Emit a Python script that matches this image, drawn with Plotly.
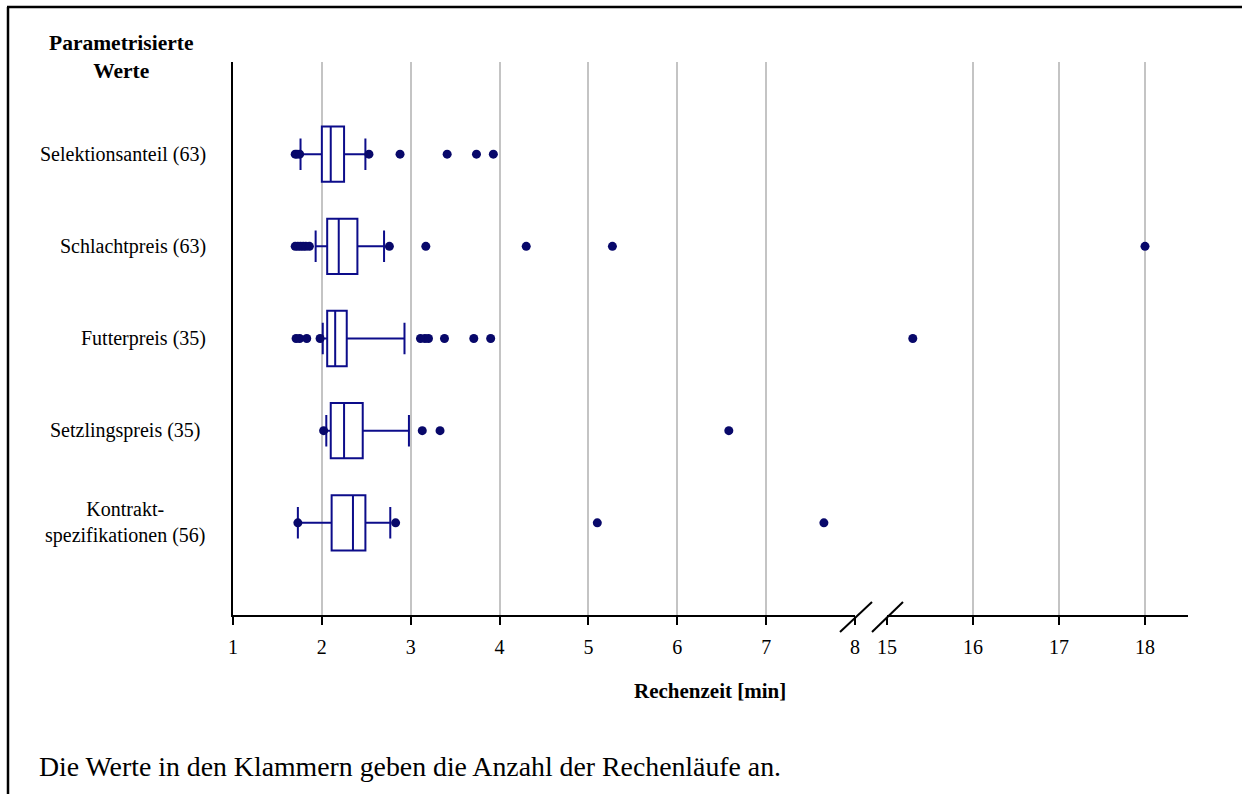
import plotly.graph_objects as go

# ---- data ----
categories = ["Selektionsanteil (63)", "Schlachtpreis (63)", "Futterpreis (35)",
              "Setzlingspreis (35)", "Kontrakt-<br>spezifikationen (56)"]
q1 = [2.00, 2.06, 2.06, 2.10, 2.11]
median = [2.10, 2.19, 2.15, 2.25, 2.35]
q3 = [2.25, 2.40, 2.28, 2.46, 2.49]
lowerfence = [1.76, 1.93, 2.01, 2.05, 1.73]
upperfence = [2.49, 2.70, 2.93, 2.98, 2.77]
outliers = [
    [1.70, 1.72, 1.75, 2.53, 2.88, 3.41, 3.74, 3.93],
    [1.70, 1.73, 1.76, 1.79, 1.82, 1.86, 2.76, 3.17, 4.30, 5.27, 18.0],
    [1.71, 1.75, 1.83, 1.98, 3.11, 3.16, 3.20, 3.38, 3.71, 3.90, 15.3],
    [2.02, 3.13, 3.33, 6.58],
    [1.73, 2.83, 5.10, 7.65],
]
left_ticks = [1, 2, 3, 4, 5, 6, 7, 8]
right_ticks = [15, 16, 17, 18]
x_title = "Rechenzeit [min]"
y_title = "Parametrisierte<br>Werte"
footnote = "Die Werte in den Klammern geben die Anzahl der Rechenläufe an."

BREAK_LO, BREAK_HI = 8, 15

# ---- style ----
FONT = "Liberation Serif"
BOX_COLOR = "#0c0c8a"
DOT_COLOR = "#08086a"
GRID = "#c4c4c4"

W, H = 1245, 794
L, R, T, B = 233, 57, 62, 179
PW, PH = W - L - R, H - T - B


def px(xp):
    return (xp - L) / PW


def py(yp):
    return (H - B - yp) / PH


fig = go.Figure()
n = len(categories)
for i, cat in enumerate(categories):
    pos = n - 1 - i
    fig.add_trace(go.Box(
        orientation="h", y=[pos], q1=[q1[i]], median=[median[i]], q3=[q3[i]],
        lowerfence=[lowerfence[i]], upperfence=[upperfence[i]],
        boxpoints=False, line=dict(color=BOX_COLOR, width=2), fillcolor="white",
        width=0.6, whiskerwidth=0.57, xaxis="x", yaxis="y", showlegend=False,
        hoverinfo="skip"))
    lo = [v for v in outliers[i] if v <= BREAK_LO]
    hi = [v for v in outliers[i] if v >= BREAK_HI]
    if lo:
        fig.add_trace(go.Scatter(x=lo, y=[pos] * len(lo), mode="markers",
                                 marker=dict(color=DOT_COLOR, size=9),
                                 xaxis="x", yaxis="y", showlegend=False))
    if hi:
        fig.add_trace(go.Scatter(x=hi, y=[pos] * len(hi), mode="markers",
                                 marker=dict(color=DOT_COLOR, size=9),
                                 xaxis="x2", yaxis="y", showlegend=False,
                                 cliponaxis=False))

axis_common = dict(showgrid=True, gridcolor=GRID, gridwidth=2, showline=True,
                   linecolor="black", linewidth=2, ticks="outside", ticklen=8,
                   tickwidth=2, tickcolor="black", zeroline=False, ticklabelstandoff=5,
                   tickfont=dict(family=FONT, size=20, color="black"), anchor="y")

split1 = px(855)
split2 = px(887)
fig.update_layout(
    width=W, height=H, margin=dict(l=L, r=R, t=T, b=B),
    paper_bgcolor="white", plot_bgcolor="white",
    xaxis=dict(domain=[0, split1], range=[1, BREAK_LO], tickvals=left_ticks, **axis_common),
    xaxis2=dict(domain=[split2, 1], range=[BREAK_HI, 18.5], tickvals=right_ticks, **axis_common),
    yaxis=dict(range=[-1, n], showline=True, linecolor="black", linewidth=2,
               showticklabels=False, showgrid=False, zeroline=False, ticks=""),
    font=dict(family=FONT, color="black"),
)

annotations = []
for i, cat in enumerate(categories):
    pos = n - 1 - i
    annotations.append(dict(text=cat, xref="paper", yref="y", x=px(208), y=pos,
                            xanchor="right", yanchor="middle", align="center",
                            showarrow=False, font=dict(family=FONT, size=20, color="black"),
                            xshift=-5 if cat.startswith("Setz") else 0))
annotations.append(dict(text="<b>" + y_title + "</b>", xref="paper", yref="paper",
                        x=px(121), y=py(57), xanchor="center", yanchor="middle",
                        align="center", showarrow=False,
                        font=dict(family=FONT, size=21.5, color="black")))
annotations.append(dict(text="<b>" + x_title + "</b>", xref="paper", yref="paper",
                        x=px(710), y=py(691), xanchor="center", yanchor="middle",
                        showarrow=False, font=dict(family=FONT, size=21, color="black")))
annotations.append(dict(text=footnote, xref="paper", yref="paper",
                        x=px(37), y=py(766), xanchor="left", yanchor="middle",
                        showarrow=False, font=dict(family=FONT, size=27.8, color="black")))
fig.update_layout(annotations=annotations)

shapes = [
    # axis break marks
    dict(type="line", xref="paper", yref="paper", x0=px(840), y0=py(632),
         x1=px(872), y1=py(602), line=dict(color="black", width=2)),
    dict(type="line", xref="paper", yref="paper", x0=px(872), y0=py(632),
         x1=px(903), y1=py(602), line=dict(color="black", width=2)),
    # outer frame (top and left)
    dict(type="line", xref="paper", yref="paper", x0=px(8), y0=py(800),
         x1=px(8), y1=py(7), line=dict(color="black", width=2.5)),
    dict(type="line", xref="paper", yref="paper", x0=px(7), y0=py(7),
         x1=px(1242), y1=py(7), line=dict(color="black", width=2.5)),
]
fig.update_layout(shapes=shapes)

fig.write_html("out.html")
